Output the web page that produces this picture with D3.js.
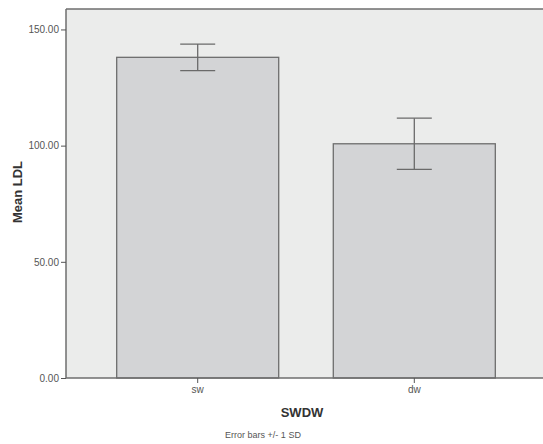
<!DOCTYPE html>
<html>
<head>
<meta charset="utf-8">
<script src="https://cdn.jsdelivr.net/npm/d3@7"></script>
<style>
  body { margin: 0; background: #fff; }
  svg { display: block; font-family: "Liberation Sans", Arial, sans-serif; }
</style>
</head>
<body>
<div class="chart"></div>
<script>
// Data
var categories = ["sw", "dw"];
var means = [138.0, 100.8];
var sds = [5.7, 11.0];
var yTicks = [0, 50, 100, 150];

var outerWidth = 543;
var outerHeight = 444;
var plot = { left: 66, top: 9, right: 543, bottom: 378 };

var svg = d3.select(".chart").append("svg")
  .attr("width", outerWidth)
  .attr("height", outerHeight);

// Scales
var xScale = d3.scaleBand()
  .domain(categories)
  .range([plot.left, plot.right + 3])
  .paddingInner(0.252)
  .paddingOuter(0.234);

var yScale = d3.scaleLinear()
  .domain([0, 158.8])
  .range([plot.bottom, plot.top]);

// Plot background
svg.append("rect")
  .attr("x", plot.left)
  .attr("y", plot.top)
  .attr("width", plot.right - plot.left)
  .attr("height", plot.bottom - plot.top)
  .attr("fill", "#ebeceb");

// Bars
svg.selectAll("rect.bar").data(means)
  .enter().append("rect")
    .attr("class", "bar")
    .attr("x", function(d, i) { return xScale(categories[i]); })
    .attr("y", function(d) { return yScale(d); })
    .attr("width", xScale.bandwidth())
    .attr("height", function(d) { return yScale(0) - yScale(d); })
    .attr("fill", "#d3d4d6")
    .attr("stroke", "#6e6e6e")
    .attr("stroke-width", 1.3);

// Error bars +/- 1 SD
var capHalf = 17.5;
var err = svg.selectAll("g.err").data(means)
  .enter().append("g")
    .attr("class", "err")
    .attr("stroke", "#6a6a6a")
    .attr("stroke-width", 1.3);

err.append("line")
  .attr("x1", function(d, i) { return xScale(categories[i]) + xScale.bandwidth() / 2; })
  .attr("x2", function(d, i) { return xScale(categories[i]) + xScale.bandwidth() / 2; })
  .attr("y1", function(d, i) { return yScale(d + sds[i]); })
  .attr("y2", function(d, i) { return yScale(d - sds[i]); });

[1, -1].forEach(function(sign) {
  err.append("line")
    .attr("x1", function(d, i) { return xScale(categories[i]) + xScale.bandwidth() / 2 - capHalf; })
    .attr("x2", function(d, i) { return xScale(categories[i]) + xScale.bandwidth() / 2 + capHalf; })
    .attr("y1", function(d, i) { return yScale(d + sign * sds[i]); })
    .attr("y2", function(d, i) { return yScale(d + sign * sds[i]); });
});

// Axes
var yAxis = svg.append("g")
  .attr("transform", "translate(" + plot.left + ",0)")
  .call(d3.axisLeft(yScale).tickValues(yTicks).tickSize(5).tickPadding(2)
    .tickFormat(d3.format(".2f")));

var xAxis = svg.append("g")
  .attr("transform", "translate(0," + plot.bottom + ")")
  .call(d3.axisBottom(xScale).tickSize(5).tickPadding(3));

[yAxis, xAxis].forEach(function(ax) {
  ax.select(".domain").attr("stroke", "#6e6e6e").attr("stroke-width", 1.5);
  ax.selectAll(".tick line").attr("stroke", "#555");
  ax.selectAll(".tick text")
    .attr("fill", "#555")
    .style("font-size", "10px")
    .style("font-family", "'Liberation Sans', Arial, sans-serif");
});
yAxis.select(".domain").attr("d", "M0," + plot.top + "V" + plot.bottom);
xAxis.select(".domain").attr("d", "M" + plot.left + ",0H" + plot.right);

// Top border
svg.append("line")
  .attr("x1", plot.left).attr("x2", plot.right)
  .attr("y1", plot.top).attr("y2", plot.top)
  .attr("stroke", "#6e6e6e")
  .attr("stroke-width", 1.5);

// Titles
svg.append("text")
  .attr("transform", "translate(22,192) rotate(-90)")
  .attr("text-anchor", "middle")
  .attr("fill", "#333")
  .style("font-size", "13px")
  .style("font-weight", "bold")
  .text("Mean LDL");

svg.append("text")
  .attr("x", 302)
  .attr("y", 417)
  .attr("text-anchor", "middle")
  .attr("fill", "#333")
  .style("font-size", "13px")
  .style("font-weight", "bold")
  .text("SWDW");

svg.append("text")
  .attr("x", 263)
  .attr("y", 438)
  .attr("text-anchor", "middle")
  .attr("fill", "#555")
  .style("font-size", "9px")
  .text("Error bars +/- 1 SD");
</script>
</body>
</html>
